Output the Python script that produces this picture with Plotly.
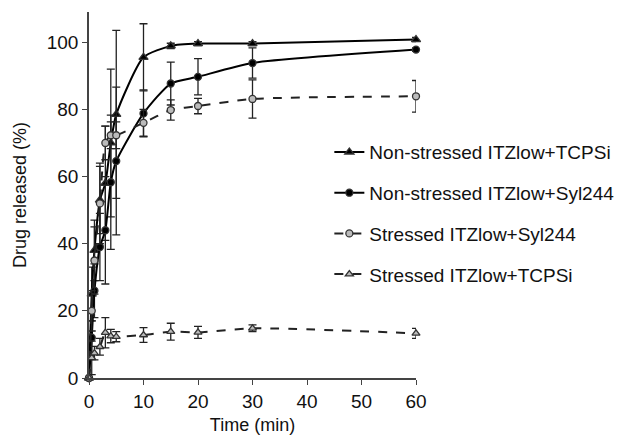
import plotly.graph_objects as go

time_min = [0, 0.5, 1, 2, 3, 4, 5, 10, 15, 20, 30, 60]

ns_tcpsi = [0, 25, 38, 53, 58, 70, 78.5, 95.5, 98.9, 99.6, 99.6, 100.8]
ns_tcpsi_err = [0, 8, 9, 10, 17, 22, 25, 10, 0.8, 0.6, 0.6, 0.6]

ns_syl = [0, 12, 26, 39, 44, 58.3, 64.6, 78.8, 87.7, 89.7, 93.8, 97.8]
ns_syl_err = [0, 5, 8, 10, 16, 20, 22, 7, 6.4, 5.4, 4.5, 0.5]

s_syl = [0, 20, 35, 52, 70, 72.3, 72.3, 76, 79.8, 81, 83.1, 83.9]
s_syl_err = [0, 6, 10, 12, 5, 4, 4, 4, 3, 2.3, 5.7, 4.7]

s_tcpsi = [0, 6, 7.4, 9.3, 13.5, 12.5, 12.3, 12.8, 13.8, 13.6, 14.8, 13.3]
s_tcpsi_err = [0, 5, 2, 2.5, 4.5, 2, 1.5, 2.2, 2.5, 1.8, 1, 1.5]

x_ticks = [0, 10, 20, 30, 40, 50, 60]
y_ticks = [0, 20, 40, 60, 80, 100]

names = ["Non-stressed ITZlow+TCPSi", "Non-stressed ITZlow+Syl244",
         "Stressed ITZlow+Syl244", "Stressed ITZlow+TCPSi"]

fig = go.Figure()

def add(y, err, name, symbol, dash, mcolor, lcolor, size):
    fig.add_trace(go.Scatter(
        x=time_min, y=y, name=name, legendgroup=name,
        mode="lines+markers",
        line=dict(color=lcolor, width=2, dash=dash, shape="spline", smoothing=0.6),
        marker=dict(symbol=symbol, size=size, color=mcolor,
                    line=dict(color="#333", width=1.3)),
        error_y=dict(type="data", array=err, visible=True, color="#222",
                     thickness=1.3, width=4),
        cliponaxis=False,
    ))

add(ns_tcpsi, ns_tcpsi_err, names[0], "triangle-up", "solid", "#000", "#000", 8)
add(ns_syl, ns_syl_err, names[1], "circle", "solid", "#000", "#000", 7)
add(s_syl, s_syl_err, names[2], "circle", "dash", "#bbb", "#222", 7)
add(s_tcpsi, s_tcpsi_err, names[3], "triangle-up", "dash", "#bbb", "#222", 7)

fig.update_layout(
    width=624, height=444,
    margin=dict(l=81, r=216, t=4, b=74, autoexpand=False),
    paper_bgcolor="white", plot_bgcolor="white",
    font=dict(family="Liberation Sans, Arial, sans-serif", size=19, color="#111"),
    showlegend=True,
    legend=dict(x=0.735, y=0.669, xanchor="left", yanchor="top",
                font=dict(size=19, color="#111"), bgcolor="rgba(0,0,0,0)",
                tracegroupgap=13, itemwidth=30),
    xaxis=dict(range=[0, 60], tickvals=x_ticks, showline=True, linecolor="#444",
               linewidth=1.5, ticks="outside", ticklen=5, tickcolor="#444",
               tickfont=dict(size=19), showgrid=False, zeroline=False,
               automargin=False,
               title=dict(text="Time (min)", font=dict(size=18), standoff=8)),
    yaxis=dict(range=[0, 109], tickvals=y_ticks, showline=True, linecolor="#444",
               linewidth=1.5, ticks="outside", ticklen=5, tickcolor="#444",
               tickfont=dict(size=19), showgrid=False, zeroline=False,
               automargin=False,
               title=dict(text="Drug released (%)", font=dict(size=18), standoff=15)),
)

fig.write_html("out.html")
